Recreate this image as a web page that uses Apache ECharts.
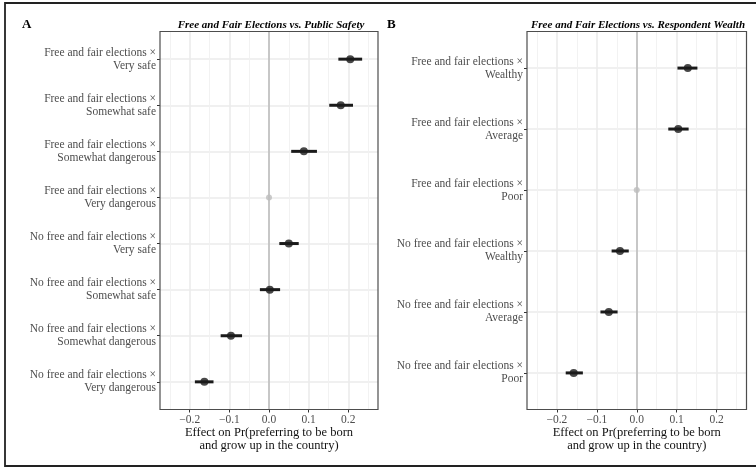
<!DOCTYPE html>
<html>
<head>
<meta charset="utf-8">
<script src="https://cdn.jsdelivr.net/npm/echarts@6/dist/echarts.min.js"></script>
<style>
html,body{margin:0;padding:0;background:#fff;}
#c{width:756px;height:469px;}
</style>
</head>
<body>
<div id="c"></div>
<script>
// ---- Panel A data ----
const catsA = [
  'Free and fair elections ×\nVery safe',
  'Free and fair elections ×\nSomewhat safe',
  'Free and fair elections ×\nSomewhat dangerous',
  'Free and fair elections ×\nVery dangerous',
  'No free and fair elections ×\nVery safe',
  'No free and fair elections ×\nSomewhat safe',
  'No free and fair elections ×\nSomewhat dangerous',
  'No free and fair elections ×\nVery dangerous'
];
const estA = [0.205, 0.181, 0.088, 0, 0.050, 0.002, -0.096, -0.163];
const loA  = [0.175, 0.152, 0.056, null, 0.026, -0.023, -0.122, -0.187];
const hiA  = [0.235, 0.212, 0.121, null, 0.075, 0.028, -0.068, -0.140];

// ---- Panel B data ----
const catsB = [
  'Free and fair elections ×\nWealthy',
  'Free and fair elections ×\nAverage',
  'Free and fair elections ×\nPoor',
  'No free and fair elections ×\nWealthy',
  'No free and fair elections ×\nAverage',
  'No free and fair elections ×\nPoor'
];
const estB = [0.128, 0.104, 0, -0.042, -0.070, -0.158];
const loB  = [0.102, 0.079, null, -0.063, -0.091, -0.178];
const hiB  = [0.152, 0.130, null, -0.020, -0.048, -0.135];

// ---- axis ticks ----
const xMajorTicks = [-0.2, -0.1, 0, 0.1, 0.2];
const xMinorTicks = [-0.25, -0.15, -0.05, 0.05, 0.15, 0.25];
const xMin = -0.275, xMax = 0.275;

const titleA = 'Free and Fair Elections vs. Public Safety';
const titleB = 'Free and Fair Elections vs. Respondent Wealth';
const xTitle = 'Effect on Pr(preferring to be born\nand grow up in the country)';

const FONT = '"Liberation Serif", "DejaVu Serif", serif';
const chart = echarts.init(document.getElementById('c'), null, {renderer: 'canvas'});

const grids = [
  {left: 160, top: 31.5, width: 218, height: 378},
  {left: 527, top: 31.5, width: 219.5, height: 378}
];

function fmtX(v) {
  const r = Math.round(v * 10) / 10;
  return (r < 0 ? '\u2212' : '') + Math.abs(r).toFixed(1);
}

function xAxesFor(gi) {
  return [
    {
      type: 'value', gridIndex: gi, position: 'bottom', min: xMin, max: xMax,
      axisLine: {show: false, onZero: false},
      axisTick: {show: true, length: 3, customValues: xMajorTicks, lineStyle: {color: '#333', width: 1}},
      axisLabel: {customValues: xMajorTicks, formatter: fmtX, color: '#4d4d4d', fontFamily: FONT, fontSize: 11.5, margin: 4},
      splitLine: {show: true, lineStyle: {color: '#ebebeb', width: 1.6}},
      name: xTitle, nameLocation: 'middle', nameGap: 17, nameMoveOverlap: false,
      nameTextStyle: {fontFamily: FONT, fontSize: 12.5, color: '#111', lineHeight: 13, verticalAlign: 'top'}
    },
    {
      type: 'value', gridIndex: gi, position: 'top', min: xMin, max: xMax,
      axisLine: {show: false, onZero: false}, axisTick: {show: false, customValues: xMinorTicks},
      axisLabel: {show: false, customValues: xMinorTicks},
      splitLine: {show: true, lineStyle: {color: '#f0f0f0', width: 0.9}}
    }
  ];
}

function yAxisFor(gi, cats) {
  const vals = cats.map((c, i) => i + 1);
  return {
    type: 'value', gridIndex: gi, inverse: true, min: 0.4, max: cats.length + 0.6,
    position: 'left',
    axisLine: {show: false, onZero: false},
    axisTick: {show: true, length: 3, customValues: vals, lineStyle: {color: '#333', width: 1}},
    axisLabel: {
      customValues: vals, formatter: v => cats[Math.round(v) - 1] || '',
      color: '#4d4d4d', fontFamily: FONT, fontSize: 11.5, lineHeight: 13, margin: 4, align: 'right'
    },
    splitLine: {show: true, lineStyle: {color: '#ebebeb', width: 1.6}}
  };
}

function seriesFor(xi, yi, est, lo, hi) {
  const errData = [];
  lo.forEach((l, i) => { if (l !== null) errData.push([l, hi[i], i + 1]); });
  const ptData = est.map((e, i) => ({
    value: [e, i + 1],
    symbolSize: lo[i] === null ? 6 : 8,
    itemStyle: {color: lo[i] === null ? '#bdbdbd' : '#1a1a1a'}
  }));
  return [
    {
      type: 'scatter', xAxisIndex: xi, yAxisIndex: yi, data: [], silent: true,
      markLine: {
        silent: true, symbol: ['none', 'none'], label: {show: false},
        lineStyle: {color: '#bdbdbd', width: 1.6, type: 'solid'},
        data: [{xAxis: 0}], z: 1
      },
      z: 1
    },
    {
      type: 'custom', xAxisIndex: xi, yAxisIndex: yi, data: errData, silent: true, z: 3,
      renderItem(params, api) {
        const p1 = api.coord([api.value(0), api.value(2)]);
        const p2 = api.coord([api.value(1), api.value(2)]);
        return {type: 'line', shape: {x1: p1[0], y1: p1[1], x2: p2[0], y2: p2[1]},
          style: {stroke: '#1a1a1a', lineWidth: 3}};
      }
    },
    {
      type: 'scatter', xAxisIndex: xi, yAxisIndex: yi, data: ptData, silent: true, z: 4,
      symbol: 'circle'
    }
  ];
}

chart.setOption({
  animation: false,
  backgroundColor: '#fff',
  grid: grids.map(g => Object.assign({show: true, borderColor: '#4d4d4d', borderWidth: 1.2, backgroundColor: 'transparent', z: 5}, g)),
  xAxis: [...xAxesFor(0), ...xAxesFor(1)],
  yAxis: [yAxisFor(0, catsA), yAxisFor(1, catsB)],
  series: [...seriesFor(0, 0, estA, loA, hiA), ...seriesFor(2, 1, estB, loB, hiB)],
  graphic: [
    {type: 'rect', shape: {x: 5, y: 3, width: 760, height: 463}, style: {fill: 'none', stroke: '#222', lineWidth: 1.8}, silent: true},
    {type: 'text', x: 22, y: 25, style: {text: 'A', font: 'bold 13px ' + FONT, fill: '#000', verticalAlign: 'middle'}},
    {type: 'text', x: 387, y: 25, style: {text: 'B', font: 'bold 13px ' + FONT, fill: '#000', verticalAlign: 'middle'}},
    {type: 'text', x: 271, y: 25, style: {text: titleA, font: 'italic bold 11px ' + FONT, fill: '#000', align: 'center', verticalAlign: 'middle'}},
    {type: 'text', x: 638, y: 25, style: {text: titleB, font: 'italic bold 11px ' + FONT, fill: '#000', align: 'center', verticalAlign: 'middle'}}
  ]
});
</script>
</body>
</html>
